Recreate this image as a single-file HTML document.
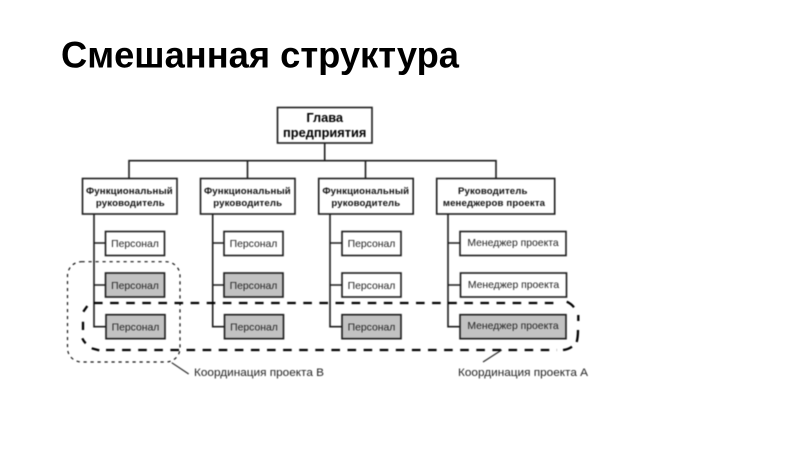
<!DOCTYPE html>
<html>
<head>
<meta charset="utf-8">
<style>
html,body{margin:0;padding:0;background:#fff;width:800px;height:450px;overflow:hidden}
svg{display:block;position:absolute;left:0;top:0}
text{font-family:"Liberation Sans",sans-serif}
.d{filter:blur(0.4px)}
.b{fill:#fff;stroke:#1c1c1c;stroke-width:1.6}
.g{fill:#c2c2c2;stroke:#1c1c1c;stroke-width:1.6}
.l{fill:none;stroke:#1c1c1c;stroke-width:1.6}
.f{font-size:9.6px;font-weight:bold;fill:#111;text-anchor:middle;letter-spacing:.15px}
.s{font-size:10.4px;fill:#222;text-anchor:middle}
.c{font-size:11.3px;fill:#222}
</style>
</head>
<body>
<svg width="800" height="450" viewBox="0 0 800 450">
<text x="61" y="67.5" font-size="37" font-weight="bold" fill="#000" textLength="398" lengthAdjust="spacingAndGlyphs">Смешанная структура</text>
<g class="d">
<path class="l" d="M324.7 143V160.7M129 178.5V160.7H496V178.5M247.5 160.7V178.5M365.5 160.7V178.5"/>
<path class="l" d="M94 214V326.7H106M94 243H105.5M94 285H105.5"/>
<path class="l" d="M212.7 214V326.7H224M212.7 243H224M212.7 285H224"/>
<path class="l" d="M330 214V326.7H342M330 243H342M330 285H342"/>
<path class="l" d="M448 214V326.7H460M448 243H460M448 285H460"/>

<rect class="b" x="277.5" y="107.5" width="94.5" height="35.5"/>
<text x="324.7" y="122" font-size="12.8" font-weight="bold" fill="#000" text-anchor="middle">Глава</text>
<text x="324.7" y="137" font-size="12.8" font-weight="bold" fill="#000" text-anchor="middle">предприятия</text>

<rect class="b" x="82.5" y="178.5" width="94.5" height="35.5"/>
<text class="f" x="129.4" y="194">Функциональный</text><text class="f" x="130.4" y="206">руководитель</text>
<rect class="b" x="200.5" y="178.5" width="94.5" height="35.5"/>
<text class="f" x="247.4" y="194">Функциональный</text><text class="f" x="247.7" y="206">руководитель</text>
<rect class="b" x="318.7" y="178.5" width="94.5" height="35.5"/>
<text class="f" x="365.8" y="194">Функциональный</text><text class="f" x="365.9" y="206">руководитель</text>
<rect class="b" x="436.7" y="178.5" width="118" height="35.5"/>
<text class="f" x="492.8" y="194">Руководитель</text><text class="f" x="494" y="206">менеджеров проекта</text>

<rect class="b" x="105.5" y="231.5" width="59" height="24"/><text class="s" x="135" y="247">Персонал</text>
<rect class="g" x="105.5" y="273" width="59" height="24"/><text class="s" x="135" y="289">Персонал</text>
<rect class="g" x="106" y="314.7" width="59" height="24"/><text class="s" x="135.5" y="330.5">Персонал</text>

<rect class="b" x="224" y="231.5" width="59" height="24"/><text class="s" x="253.5" y="247">Персонал</text>
<rect class="g" x="224" y="273" width="59" height="24"/><text class="s" x="253.5" y="289">Персонал</text>
<rect class="g" x="224.5" y="314.7" width="59" height="24"/><text class="s" x="254" y="330.5">Персонал</text>

<rect class="b" x="342" y="231.5" width="59" height="24"/><text class="s" x="371.5" y="247">Персонал</text>
<rect class="b" x="342" y="273" width="59" height="24"/><text class="s" x="371.5" y="289">Персонал</text>
<rect class="g" x="342" y="314.7" width="59" height="24"/><text class="s" x="371.5" y="330.5">Персонал</text>

<rect class="b" x="460" y="231.5" width="106" height="24"/><text class="s" x="513" y="246">Менеджер проекта</text>
<rect class="b" x="460.5" y="273" width="106" height="24"/><text class="s" x="513.5" y="288">Менеджер проекта</text>
<rect class="g" x="460" y="314.7" width="106" height="24"/><text class="s" x="513" y="329">Менеджер проекта</text>

<rect x="67.5" y="261.7" width="112.5" height="100.3" rx="14" ry="14" fill="none" stroke="#111" stroke-width="1.2" stroke-dasharray="3.2 3.8"/>
<g fill="none" stroke="#000" stroke-width="2.3">
<path d="M94 303H558" stroke-dasharray="8.6 7.5"/>
<path d="M106 350H557" stroke-dasharray="8.6 7.5"/>
<path d="M83.3 311.7L87.3 306M83 321.7V330M82.3 338.3Q83.5 341 85.7 343.3M91.7 348.3L99.3 350.4"/>
<path d="M566.7 301.7Q571 303.5 574 307.3M578.3 315V321M578 330Q578 337 576.7 342M563 350Q568 349.5 572 346.7"/>
</g>
<path d="M171.7 362.7L188.7 374M501.7 350L483 362" fill="none" stroke="#222" stroke-width="1.1"/>
<text class="c" x="194" y="376" textLength="130" lengthAdjust="spacingAndGlyphs">Координация проекта В</text>
<text class="c" x="458" y="376" textLength="130" lengthAdjust="spacingAndGlyphs">Координация проекта А</text>
</g>
</svg>
</body>
</html>
